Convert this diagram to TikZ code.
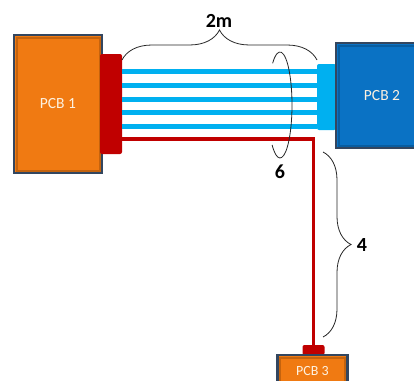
\documentclass[tikz,border=0pt]{standalone}
\usepackage{fontspec}
\setmainfont{Carlito}
\usepackage{tikz}
\usetikzlibrary{positioning,calc,decorations.pathreplacing}
\definecolor{pcborange}{HTML}{F07A12}
\definecolor{pcbblue}{HTML}{0A72C4}
\definecolor{pcbedge}{HTML}{33465F}
\definecolor{conred}{HTML}{C00000}
\definecolor{conblue}{HTML}{00B0F0}
\definecolor{pcbtext}{HTML}{FDF1E0}
\tikzstyle{pcb} = [rectangle, draw=pcbedge, line width=2.5pt, fill=pcborange,
    text=pcbtext, font=\fontsize{15.5}{17}\selectfont, inner sep=0pt,
    path picture={\draw[black, opacity=0.18, line width=2pt]
      ([shift={(2.5pt,-2.5pt)}]path picture bounding box.north west) rectangle
      ([shift={(-2.5pt,2.5pt)}]path picture bounding box.south east);}]
\tikzstyle{plug} = [rectangle, fill=conred, rounded corners=2pt, inner sep=0pt]
\tikzstyle{wire} = [conblue, line width=5pt]
\tikzstyle{redwire} = [conred, line width=3.5pt]
\tikzstyle{brc} = [black!85, line width=0.8pt, decorate, decoration={brace, amplitude=#1}]
\tikzstyle{lbl} = [font=\fontsize{20}{22}\selectfont\bfseries, inner sep=0pt]

\begin{document}
\begin{tikzpicture}[x=1pt, y=-1pt]
\clip (0,0) rectangle (414,380);
\node[pcb, minimum width=88pt, minimum height=138pt] (pcb1) at (58,104) {PCB 1};
\node[plug, minimum width=22pt, minimum height=100pt] (con1) at (111,104) {};
\node[plug, fill=conblue, minimum width=19pt, minimum height=66pt] (con2) at (326.5,97) {};
\node[pcb, fill=pcbblue, minimum width=92pt, minimum height=105pt] (pcb2) at (382,95.5) {PCB 2};
\node[plug, minimum width=22pt, minimum height=10pt] (con3) at (313.5,350) {};
\node[pcb, font=\fontsize{14}{16}\selectfont, minimum width=70pt, minimum height=32pt] (pcb3) at (312.5,371) {PCB 3};

% ribbon of five wires plus the red one
\foreach \y in {71,85,99,112,126}
  \draw[wire] (con1.east |- 0,\y) -- (con2.west |- 0,\y);
\draw[redwire] (con1.east |- 0,139) -| (con3.north);

% bundle ring
\coordinate (ring) at (280,105);
\draw[black!85, line width=0.8pt] ($(ring)+(128:12pt and 53pt)$)
  arc[start angle=128, end angle=-131, x radius=12pt, y radius=53pt];
\node[lbl] (six) at (280,172) {6};

% braces
\coordinate (top-l) at (122,60);
\coordinate (top-r) at (317,60);
\draw[brc=30pt] (top-l) -- (top-r);
\node[lbl] (len) at (219,21) {2m};
\coordinate (side-t) at (323,152);
\coordinate (side-b) at (323,337);
\draw[brc=28pt] (side-t) -- (side-b);
\node[lbl] (four) at (362,245) {4};
\end{tikzpicture}
\end{document}
